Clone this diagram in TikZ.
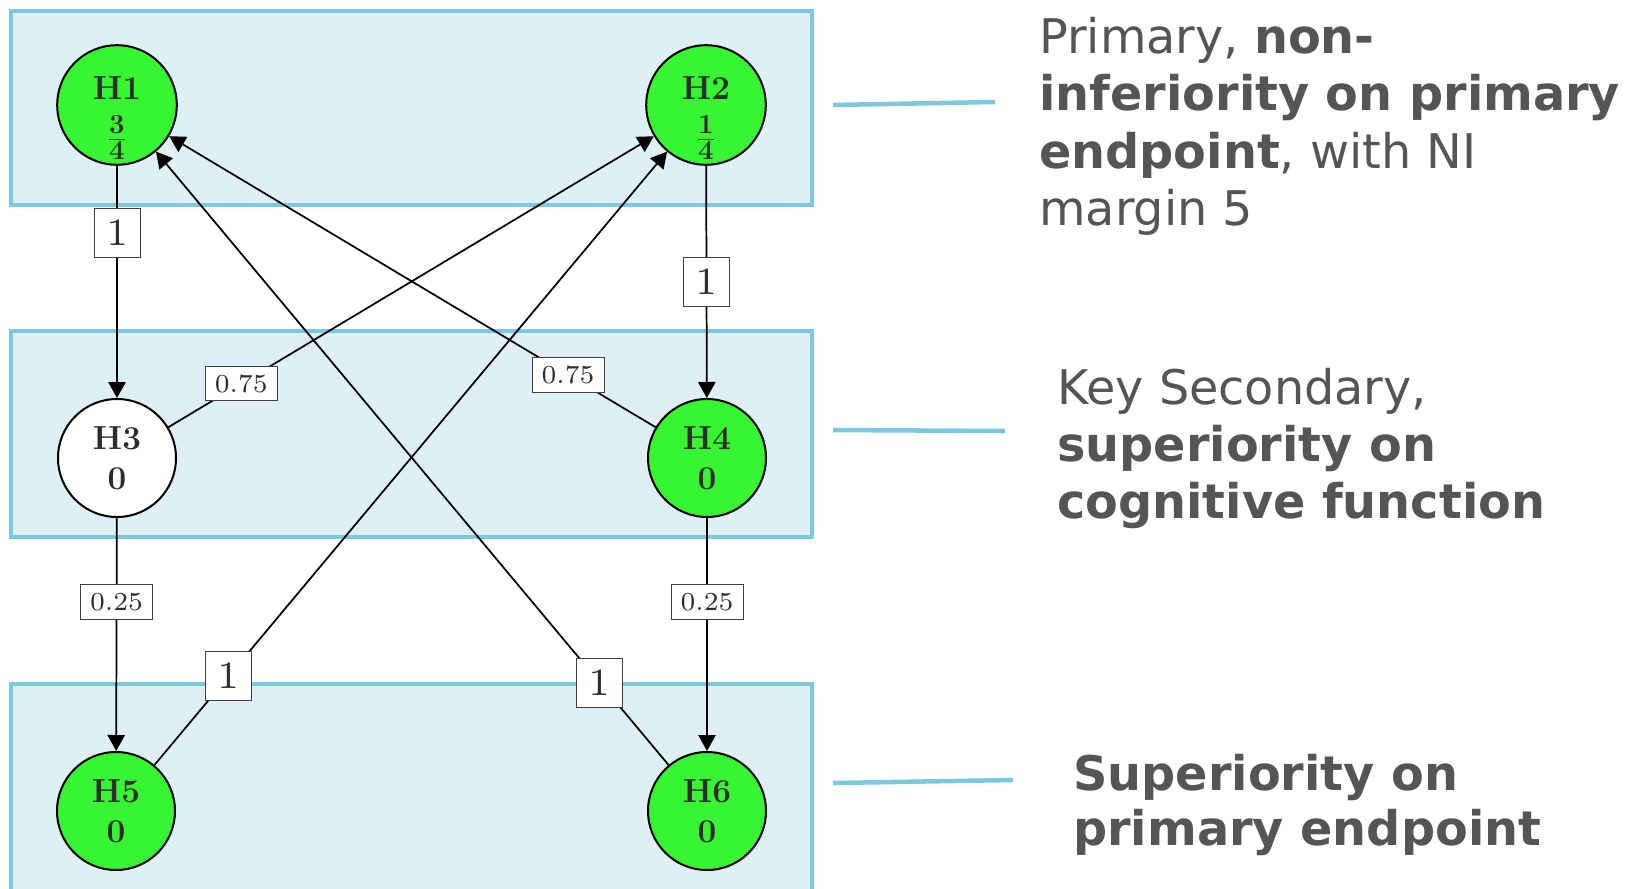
\documentclass[tikz,border=0pt]{standalone}
\usepackage{fontspec}
\newfontfamily\sidefont{DejaVu Sans}
\newfontfamily\lblfont{lmroman7-regular.otf}
\usetikzlibrary{arrows.meta}
\definecolor{bandfill}{RGB}{222,240,246}
\definecolor{bandline}{RGB}{125,200,222}
\definecolor{hgreen}{RGB}{55,245,50}
\definecolor{sidetext}{RGB}{85,85,85}
\definecolor{nodetext}{RGB}{45,45,45}
\tikzset{
  hyp/.style={circle, draw=black, line width=1.5pt, minimum size=88.5pt, inner sep=0pt,
    fill=hgreen, text=nodetext, font=\fontsize{25}{30}\selectfont\bfseries\boldmath, align=center},
  hypw/.style={hyp, fill=white},
  band/.style={draw=bandline, fill=bandfill, line width=3pt},
  wbig/.style={draw=black!75, fill=white, line width=0.6pt, inner sep=0pt,
    minimum width=34.5pt, minimum height=37pt, font=\lblfont\fontsize{29}{29}\selectfont, text=nodetext},
  wsmall/.style={draw=black!75, fill=white, line width=0.6pt, inner sep=0pt,
    minimum width=54pt, minimum height=26pt, font=\lblfont\fontsize{19.5}{19.5}\selectfont, text=nodetext},
  edge/.style={line width=1.3pt, -{Triangle[length=12pt,width=13pt]}},
  sideline/.style={draw=bandline, line width=3.4pt},
  sidetxt/.style={font=\sidefont\fontsize{35.8}{42.75}\selectfont, text=sidetext, anchor=base west, inner sep=0pt}
}
\newcommand{\bigfrac}[2]{{\fontsize{29}{30}\selectfont$\frac{#1}{#2}$}}
\begin{document}
\begin{tikzpicture}[x=0.75pt, y=-0.75pt]
\useasboundingbox (0,0) rectangle (1633,888);
% bands
\draw[band] (11,11) rectangle (812,205);
\draw[band] (11,331) rectangle (812,537);
\draw[band] (11,684) rectangle (812,910);
% hypotheses
\node[hyp]  (H1) at (117,105) {\rule{0pt}{37pt}H1\\[6pt]\bigfrac{3}{4}};
\node[hyp]  (H2) at (706,105) {\rule{0pt}{37pt}H2\\[6pt]\bigfrac{1}{4}};
\node[hypw] (H3) at (117,458) {H3\\0};
\node[hyp]  (H4) at (707,458) {H4\\0};
\node[hyp]  (H5) at (116,811) {H5\\0};
\node[hyp]  (H6) at (707,811) {H6\\0};
% edges
\draw[edge] (H1) -- node[wbig, pos=0.29] (l13) {1} (H3);
\draw[edge] (H2) -- node[wbig, pos=0.50] (l24) {1} (H4);
\draw[edge] (H3) -- node[wsmall, pos=0.36] (l35) {0.25} (H5);
\draw[edge] (H4) -- node[wsmall, pos=0.36] (l46) {0.25} (H6);
\draw[edge] (H3) -- node[wsmall, pos=0.15] (l32) {0.75} (H2);
\draw[edge] (H4) -- node[wsmall, pos=0.18] (l41) {0.75} (H1);
\draw[edge] (H5) -- node[wbig, pos=0.145] (l52) {1} (H2);
\draw[edge] (H6) -- node[wbig, pos=0.134] (l61) {1} (H1);
% side texts
\node[sidetxt] (t1a) at (1039,54)  {Primary, \textbf{non-}};
\node[sidetxt] (t1b) at (1039,111) {\textbf{inferiority on primary}};
\node[sidetxt] (t1c) at (1039,168) {\textbf{endpoint}, with NI};
\node[sidetxt] (t1d) at (1039,225) {margin 5};
\node[sidetxt] (t2a) at (1057,404) {Key Secondary,};
\node[sidetxt] (t2b) at (1057,461) {\textbf{superiority on}};
\node[sidetxt] (t2c) at (1057,518) {\textbf{cognitive function}};
\node[sidetxt] (t3a) at (1073,790) {\textbf{Superiority on}};
\node[sidetxt] (t3b) at (1073,845) {\textbf{primary endpoint}};
% side connectors
\coordinate (s1a) at (833,105); \coordinate (s1b) at (995,102);
\coordinate (s2a) at (833,430); \coordinate (s2b) at (1005,431);
\coordinate (s3a) at (833,783); \coordinate (s3b) at (1013,780);
\draw[sideline] (s1a) -- (s1b);
\draw[sideline] (s2a) -- (s2b);
\draw[sideline] (s3a) -- (s3b);
\end{tikzpicture}
\end{document}
